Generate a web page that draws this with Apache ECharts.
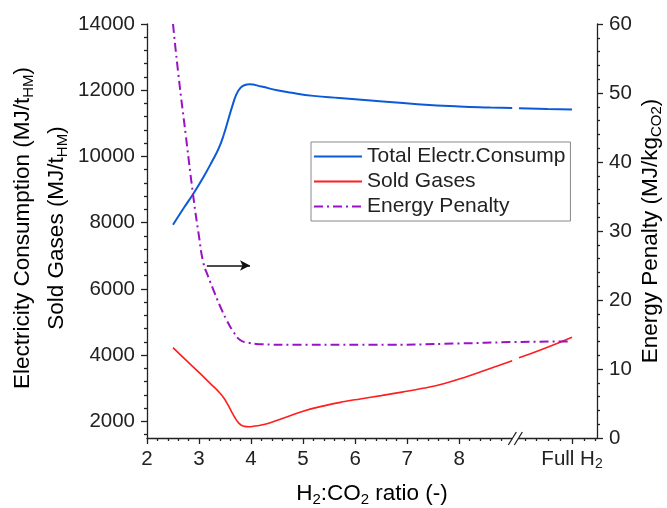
<!DOCTYPE html>
<html lang="en">
<head>
    <meta charset="UTF-8">
    <title>H2:CO2 ratio</title>
    <script src="https://cdn.jsdelivr.net/npm/echarts@6.0.0/dist/echarts.min.js"></script>
    <style>
        html, body { margin: 0; padding: 0; background: #fff; }
        #charts { width: 667px; height: 508px; }
    </style>
</head>
<body>
<div id="charts"></div>
<script>
    // data (x = position on the H2:CO2 axis, Full H2 sits at 10.17)
    var elecX = [2.5, 2.7, 2.9, 3.1, 3.25, 3.38, 3.48, 3.56, 3.64, 3.72, 3.8, 3.88, 3.97, 4.2, 4.5, 4.75, 5.2, 5.7, 6.3, 7.2, 8.0, 8.6, 9.02, 9.08, 9.15, 9.7, 10.17];
    var elecY = [7940, 8430, 8900, 9420, 9850, 10250, 10680, 11100, 11520, 11880, 12080, 12160, 12180, 12110, 12000, 11930, 11830, 11765, 11690, 11580, 11510, 11480, 11465, null, 11455, 11430, 11415];

    var soldX = [2.5, 2.75, 3.0, 3.2, 3.3, 3.4, 3.48, 3.56, 3.64, 3.72, 3.8, 3.88, 3.95, 4.05, 4.2, 4.37, 4.7, 5.0, 5.4, 5.8, 6.1, 6.5, 6.9, 7.3, 7.7, 8.1, 8.5, 9.02, 9.08, 9.15, 9.6, 10.17];
    var soldY = [4230, 3850, 3480, 3170, 3020, 2860, 2700, 2490, 2250, 2040, 1900, 1850, 1840, 1855, 1895, 1960, 2140, 2310, 2470, 2600, 2680, 2780, 2885, 3000, 3140, 3330, 3545, 3830, null, 3920, 4180, 4545];

    var penaltyX = [2.5, 2.6, 2.75, 2.89, 3.0, 3.08, 3.18, 3.28, 3.4, 3.53, 3.66, 3.79, 3.95, 4.17, 4.8, 6.4, 8.0, 9.0, 10.1];
    var penaltyY = [60, 52.9, 43.6, 35, 29.2, 25.5, 23.3, 21.4, 19.2, 17.1, 15.4, 14.2, 13.8, 13.6, 13.5, 13.5, 13.7, 13.9, 14.0];

    var xTicks = [2, 3, 4, 5, 6, 7, 8, 10.17];
    var fullH2 = 10.17;
    var breakAt = 9.08;
    var leftTicks = [2000, 4000, 6000, 8000, 10000, 12000, 14000];
    var arrowFrom = [3.15, 25];
    var arrowTo = [3.98, 25];

    var FONT = '"Liberation Sans", Arial, sans-serif';
    var tickRich = {
        n: { fontSize: 20.5, fontFamily: FONT, color: '#222', lineHeight: 23 },
        s: { fontSize: 14, fontFamily: FONT, color: '#222', lineHeight: 12, verticalAlign: 'bottom' }
    };
    var titleRich = {
        n: { fontSize: 22.5, fontFamily: FONT, color: '#222', lineHeight: 26 },
        s: { fontSize: 15, fontFamily: FONT, color: '#222', lineHeight: 14, verticalAlign: 'bottom' }
    };

    function pairs(xs, ys) {
        var out = [];
        for (var i = 0; i < xs.length; i++) {
            out.push([xs[i], ys[i] == null ? null : ys[i]]);
        }
        return out;
    }

    // minor ticks
    var xMinor = [];
    for (var v = 2.2; v < 9.05; v += 0.2) {
        if (Math.abs(v - Math.round(v)) > 0.01) xMinor.push(+v.toFixed(2));
    }
    for (var k = -4; k <= 2; k++) {
        if (k != 0) xMinor.push(+(fullH2 + k * 0.227).toFixed(3));
    }
    var leftMinor = [];
    for (var m = 1600; m <= 14000; m += 400) {
        if (m % 2000 != 0) leftMinor.push(m);
    }

    var axisLineStyle = { color: '#222', width: 1.3 };

    var option = {
        animation: false,
        grid: { left: 147, right: 70, top: 24, bottom: 70, containLabel: false },
        legend: {
            orient: 'vertical',
            left: 311,
            top: 142,
            padding: [4, 5, 4, 2],
            itemGap: 4,
            itemWidth: 48,
            itemHeight: 14,
            backgroundColor: '#fff',
            borderColor: '#888',
            borderWidth: 1,
            itemStyle: { opacity: 0 },
            textStyle: { fontSize: 21, fontFamily: FONT, color: '#222' },
            data: ['Total Electr.Consump', 'Sold Gases', 'Energy Penalty']
        },
        xAxis: [{
            type: 'value',
            min: 2,
            max: 10.65,
            axisLine: { show: true, lineStyle: axisLineStyle },
            axisTick: { show: true, customValues: xTicks, length: 6, lineStyle: axisLineStyle },
            axisLabel: {
                customValues: xTicks,
                margin: 10,
                rich: tickRich,
                formatter: function (val) {
                    if (Math.abs(val - fullH2) < 0.01) return '{n|Full H}{s|2}';
                    return '{n|' + val + '}';
                }
            },
            splitLine: { show: false }
        }, {
            type: 'value',
            position: 'bottom',
            min: 2,
            max: 10.65,
            axisLine: { show: false },
            axisTick: { show: true, customValues: xMinor, length: 3, lineStyle: axisLineStyle },
            axisLabel: { show: false },
            splitLine: { show: false }
        }],
        yAxis: [{
            type: 'value',
            position: 'left',
            min: 1500,
            max: 14000,
            axisLine: { show: true, lineStyle: axisLineStyle },
            axisTick: { show: true, customValues: leftTicks, length: 6, lineStyle: axisLineStyle },
            axisLabel: {
                customValues: leftTicks, margin: 12, fontSize: 20.5, fontFamily: FONT, color: '#222',
                formatter: function (val) { return String(val); }
            },
            splitLine: { show: false }
        }, {
            type: 'value',
            position: 'right',
            min: 0,
            max: 60,
            interval: 10,
            axisLine: { show: true, lineStyle: axisLineStyle },
            axisTick: { show: true, length: 6, lineStyle: axisLineStyle },
            minorTick: { show: true, splitNumber: 5, length: 3, lineStyle: axisLineStyle },
            axisLabel: { margin: 12, fontSize: 20.5, fontFamily: FONT, color: '#222' },
            splitLine: { show: false }
        }, {
            type: 'value',
            position: 'left',
            min: 1500,
            max: 14000,
            axisLine: { show: false },
            axisTick: { show: true, customValues: leftMinor, length: 3, lineStyle: axisLineStyle },
            axisLabel: { show: false },
            splitLine: { show: false }
        }],
        series: [{
            name: 'Total Electr.Consump',
            type: 'line',
            xAxisIndex: 0,
            yAxisIndex: 0,
            symbol: 'none',
            smooth: 0.5,
            connectNulls: false,
            lineStyle: { color: '#0b5bd8', width: 2 },
            itemStyle: { color: '#0b5bd8' },
            data: pairs(elecX, elecY)
        }, {
            name: 'Sold Gases',
            type: 'line',
            xAxisIndex: 0,
            yAxisIndex: 0,
            symbol: 'none',
            smooth: 0.5,
            connectNulls: false,
            lineStyle: { color: '#ff1d1d', width: 1.6 },
            itemStyle: { color: '#ff1d1d' },
            data: pairs(soldX, soldY)
        }, {
            name: 'Energy Penalty',
            type: 'line',
            xAxisIndex: 0,
            yAxisIndex: 1,
            symbol: 'none',
            smooth: 0.5,
            lineStyle: { color: '#9a12c4', width: 2, type: [9, 4, 2, 4] },
            itemStyle: { color: '#9a12c4' },
            data: pairs(penaltyX, penaltyY),
            markLine: {
                silent: true,
                symbol: ['none', 'arrow'],
                symbolSize: [8, 10],
                label: { show: false },
                lineStyle: { color: '#111', width: 1.5, type: 'solid' },
                data: [[{ coord: arrowFrom }, { coord: arrowTo }]]
            }
        }]
    };

    var myChart = echarts.init(document.getElementById('charts'));
    myChart.setOption(option);

    // axis break "//" and the rotated axis titles
    var bx = myChart.convertToPixel({ xAxisIndex: 0 }, breakAt);
    var by = myChart.convertToPixel({ yAxisIndex: 0 }, 1500);
    var lineSt = { stroke: '#222', lineWidth: 1.3 };
    myChart.setOption({
        graphic: [
            { type: 'rect', shape: { x: bx - 3, y: by - 2, width: 6, height: 4 }, style: { fill: '#fff' }, z: 100 },
            { type: 'line', shape: { x1: bx - 7, y1: by + 7, x2: bx + 1, y2: by - 6 }, style: lineSt, z: 101 },
            { type: 'line', shape: { x1: bx - 1, y1: by + 7, x2: bx + 7, y2: by - 6 }, style: lineSt, z: 101 },
            {
                type: 'text', x: 23, y: 228, rotation: Math.PI / 2,
                style: { text: '{n|Electricity Consumption (MJ/t}{s|HM}{n|)}', rich: titleRich, align: 'center', verticalAlign: 'middle' }
            },
            {
                type: 'text', x: 57, y: 228, rotation: Math.PI / 2,
                style: { text: '{n|Sold Gases (MJ/t}{s|HM}{n|)}', rich: titleRich, align: 'center', verticalAlign: 'middle' }
            },
            {
                type: 'text', x: 651, y: 231, rotation: Math.PI / 2,
                style: { text: '{n|Energy Penalty (MJ/kg}{s|CO2}{n|)}', rich: titleRich, align: 'center', verticalAlign: 'middle' }
            },
            {
                type: 'text', x: 372, y: 494,
                style: { text: '{n|H}{s|2}{n|:CO}{s|2}{n| ratio (-)}', rich: titleRich, align: 'center', verticalAlign: 'middle' }
            }
        ]
    });
</script>
</body>
</html>
